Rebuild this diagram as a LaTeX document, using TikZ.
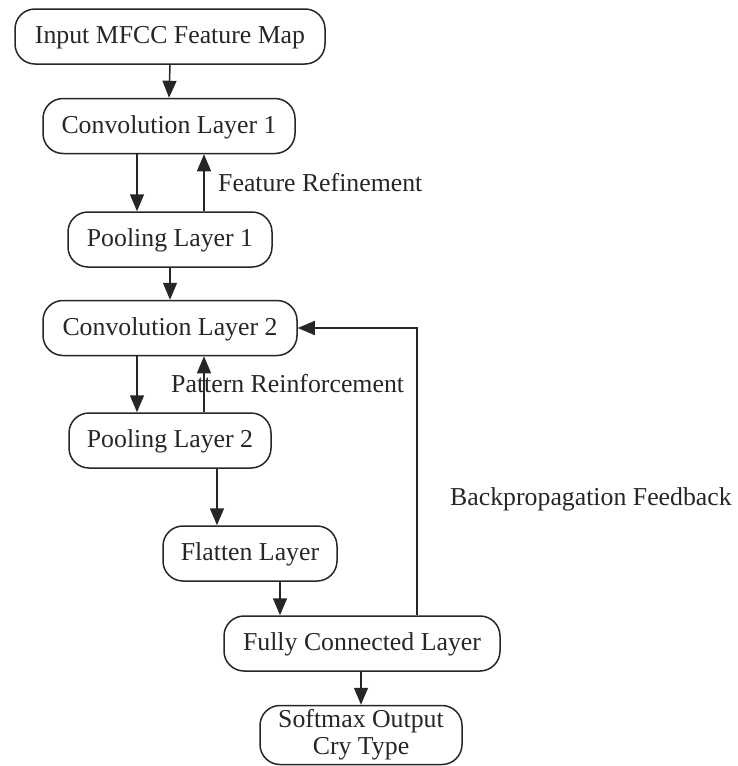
\documentclass[tikz,border=0pt]{standalone}
\usepackage{fontspec}
\setmainfont{Liberation Serif}
\usetikzlibrary{arrows.meta,calc}
\definecolor{ink}{HTML}{262626}
\tikzset{
  layerbox/.style={draw=ink, line width=1.5pt, rounded corners=20pt, text=ink,
    minimum height=55pt, inner sep=0pt, font=\fontsize{25.8}{27}\selectfont,
    text height=18pt, text depth=4pt},
  arr/.style={draw=ink, line width=1.5pt, -{Triangle[length=17pt,width=14pt]}},
  lbl/.style={text=ink, inner sep=0pt, anchor=base west, font=\fontsize{25.8}{27}\selectfont}
}
\begin{document}
\begin{tikzpicture}[x=1pt,y=-1pt]
\useasboundingbox (0,0) rectangle (737,766);
\node[layerbox, minimum width=310pt] (inp) at (170,36.5) {Input MFCC Feature Map};
\node[layerbox, minimum width=252pt] (c1) at (169,126) {Convolution Layer 1};
\node[layerbox, minimum width=204pt] (p1) at (170,239.5) {Pooling Layer 1};
\node[layerbox, minimum width=254pt] (c2) at (170,328) {Convolution Layer 2};
\node[layerbox, minimum width=202pt] (p2) at (170,440.5) {Pooling Layer 2};
\node[layerbox, minimum width=174pt] (fl) at (250,553.5) {Flatten Layer};
\node[layerbox, minimum width=276pt] (fc) at (362,643.5) {Fully Connected Layer};
\node[layerbox, minimum width=202pt, minimum height=59pt, text height=, text depth=, align=center,
      font=\fontsize{25.8}{27}\selectfont] (sm) at (361,735) {Softmax Output\\Cry Type};

\draw[arr] (inp.south) -- (c1.north);
\draw[arr] (137,0 |- c1.south) -- (137,0 |- p1.north);
\draw[arr] (204,0 |- p1.north) -- (204,0 |- c1.south);
\draw[arr] (p1.south) -- (c2.north);
\draw[arr] (137,0 |- c2.south) -- (137,0 |- p2.north);
\draw[arr] (204,0 |- p2.north) -- (204,0 |- c2.south);
\draw[arr] (217,0 |- p2.south) -- (217,0 |- fl.north);
\draw[arr] (280,0 |- fl.south) -- (280,0 |- fc.north);
\draw[arr] (fc.south -| sm.north) -- (sm.north);
\draw[arr] (417,0 |- fc.north) |- (c2.east);

\node[lbl] (l1) at (218,191) {Feature Refinement};
\node[lbl] (l2) at (171,392) {Pattern Reinforcement};
\node[lbl] (l3) at (450,505) {Backpropagation Feedback};
\end{tikzpicture}
\end{document}
